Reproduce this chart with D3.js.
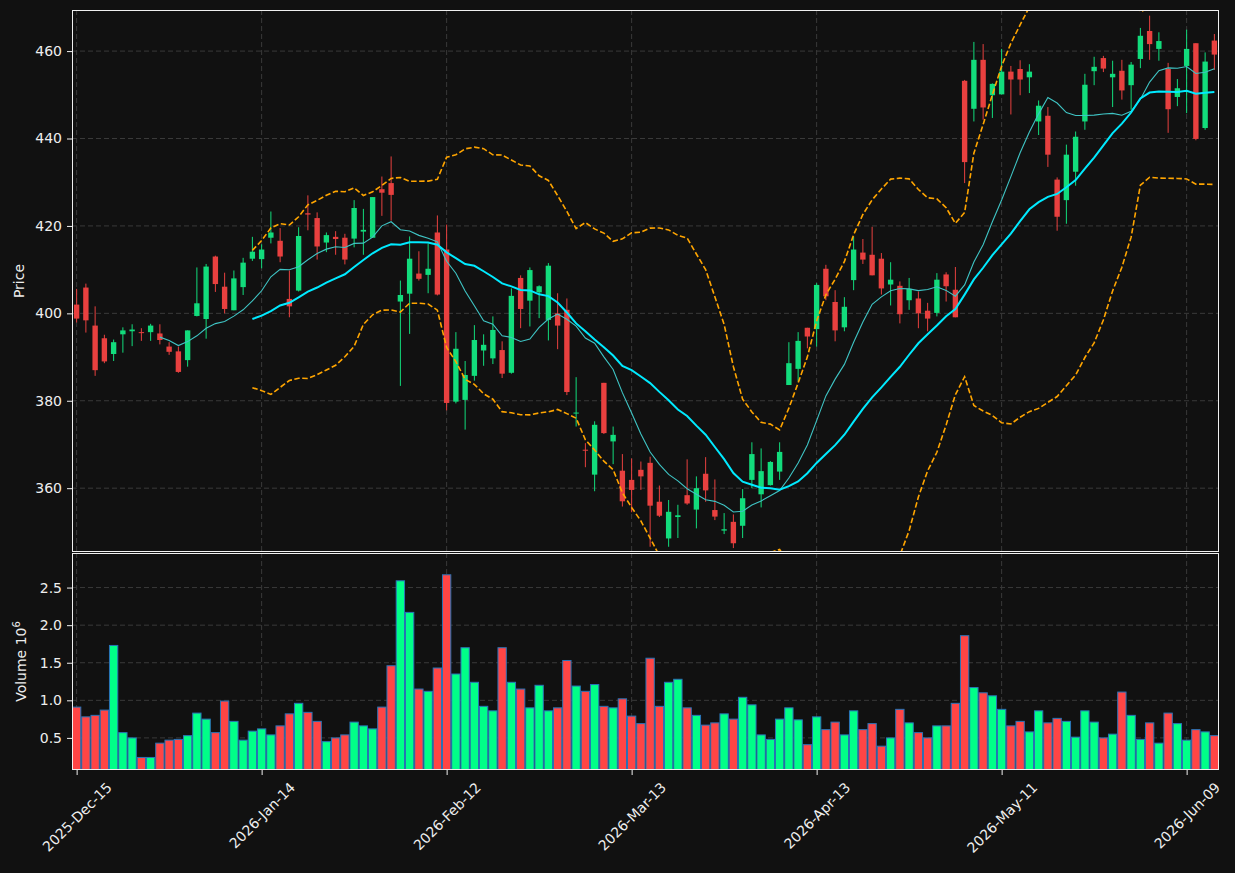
<!DOCTYPE html>
<html>
<head>
<meta charset="utf-8">
<script src="https://cdn.jsdelivr.net/npm/d3@7"></script>
<style>
  html, body { margin: 0; padding: 0; background: #111111; }
  svg { display: block; font-family: "DejaVu Sans", sans-serif; }
</style>
</head>
<body>
<div id="chart"></div>
<script>
// Daily OHLC (trading days, index 0 = 2025-Dec-15), volume in millions.
const opens = [402.0,405.9,397.2,394.3,390.7,395.2,395.9,395.7,395.7,395.4,392.4,391.3,389.3,399.4,398.7,413.0,406.1,400.7,406.0,412.5,
  412.4,417.3,416.6,403.3,405.2,422.9,421.8,416.2,417.5,417.3,417.1,418.7,417.3,428.4,429.8,402.7,404.5,409.1,408.8,418.5,
  414.6,379.8,380.2,385.7,391.5,389.7,391.6,386.4,408.1,402.9,404.8,398.5,400.0,400.8,377.1,368.8,363.1,384.1,370.7,364.0,
  361.9,364.2,365.8,356.9,348.5,353.4,358.4,355.1,363.3,355.0,350.3,352.3,351.4,361.9,358.6,360.7,363.8,383.6,387.3,396.7,
  396.4,410.2,402.6,396.8,407.6,413.9,413.4,412.5,406.6,406.3,403.0,403.4,400.6,400.1,408.9,405.4,453.2,446.8,458.0,449.9,
  450.1,455.3,455.9,454.0,443.9,445.2,430.6,425.9,432.4,443.9,455.4,458.4,454.0,455.5,452.2,458.2,464.6,460.5,455.9,449.5,
  456.6,461.8,442.4,462.4];
const highs = [405.6,406.8,401.6,395.1,394.0,396.8,397.5,396.6,397.6,397.5,393.4,392.4,396.1,410.5,411.3,413.2,409.3,409.8,412.7,417.5,
  415.8,423.3,419.5,409.8,419.7,427.0,423.1,418.5,418.8,418.2,425.9,423.9,426.6,431.3,435.9,407.5,417.6,414.2,416.0,422.4,
  420.3,395.7,389.1,397.3,395.2,399.3,393.6,405.7,408.7,410.5,406.4,411.5,404.6,403.4,385.4,370.3,375.3,384.1,374.1,367.8,
  366.8,366.1,367.2,360.6,357.3,356.2,366.6,362.7,367.1,362.0,354.3,354.0,359.8,370.5,369.1,366.2,370.5,393.4,395.7,396.7,
  406.9,411.1,405.3,403.7,417.6,417.0,419.8,413.8,411.7,407.3,408.1,405.0,402.4,409.2,409.4,410.6,453.4,462.1,461.6,452.6,
  460.5,456.6,457.9,457.0,448.7,447.2,431.1,438.6,441.6,454.8,458.7,458.9,457.8,458.0,457.5,465.3,468.1,464.3,457.3,453.6,
  464.9,461.8,459.7,463.9];
const lows = [397.9,395.6,385.7,388.6,389.1,391.0,392.5,393.7,393.7,392.9,390.5,386.4,387.8,399.3,394.2,404.9,400.0,400.7,404.2,412.0,
  410.3,416.0,411.7,399.1,405.0,419.0,412.3,414.0,413.4,411.2,415.1,413.4,417.3,422.3,421.2,383.4,395.3,407.5,404.6,404.1,
  377.8,379.4,373.4,384.6,388.0,388.4,385.2,386.2,396.6,397.0,398.9,393.8,391.8,381.3,374.1,364.8,359.3,372.4,365.5,355.8,
  354.5,359.6,346.6,353.4,346.6,348.6,356.2,350.8,356.9,352.7,349.5,346.3,348.6,360.0,355.6,360.6,361.9,383.6,384.4,392.0,
  392.4,403.0,393.6,395.9,405.3,411.3,408.7,404.3,401.8,397.7,400.8,396.6,395.9,399.3,402.7,399.1,429.8,443.9,444.3,444.7,
  450.1,445.5,449.9,450.4,440.8,433.5,418.9,420.5,429.2,442.0,452.2,455.2,447.2,448.9,446.6,456.1,458.0,457.8,441.3,447.4,
  445.8,439.6,442.0,455.7];
const closes = [398.8,398.4,387.0,389.0,393.4,396.1,396.3,395.5,397.2,393.9,391.2,386.6,396.1,402.3,410.7,406.7,401.0,408.0,411.6,414.1,
  414.6,418.5,413.0,401.6,417.7,422.6,415.3,417.9,417.0,412.3,424.1,419.1,426.6,427.6,427.1,404.2,412.5,407.9,410.2,404.3,
  379.5,391.9,385.9,393.9,392.8,396.2,386.2,404.0,401.0,409.9,406.2,410.9,397.2,382.0,377.3,368.7,374.5,372.6,372.2,357.0,
  359.6,362.7,356.0,353.7,354.6,353.8,356.5,360.0,359.5,353.5,350.6,347.4,357.7,367.8,363.9,366.0,368.3,388.6,393.7,394.7,
  406.5,403.9,396.1,401.5,414.6,412.3,408.7,405.7,407.7,399.8,405.6,400.0,398.8,407.7,406.2,399.1,434.6,458.0,447.1,452.5,
  455.3,453.5,453.5,455.3,447.5,436.3,422.1,436.3,440.4,452.3,456.4,456.0,454.8,451.0,456.9,463.5,461.6,462.3,446.7,451.5,
  460.5,439.9,457.6,459.2];
const volumes = [0.91,0.78,0.80,0.87,1.73,0.57,0.50,0.24,0.24,0.43,0.47,0.48,0.53,0.83,0.75,0.57,0.99,0.72,0.47,0.59,
  0.62,0.54,0.66,0.82,0.96,0.84,0.72,0.45,0.50,0.54,0.71,0.66,0.62,0.91,1.46,2.59,2.17,1.15,1.12,1.43,
  2.67,1.35,1.70,1.24,0.92,0.86,1.70,1.24,1.15,0.90,1.20,0.86,0.90,1.53,1.19,1.12,1.21,0.92,0.90,1.02,
  0.79,0.69,1.56,0.92,1.24,1.28,0.90,0.80,0.67,0.70,0.82,0.75,1.04,0.94,0.54,0.48,0.75,0.90,0.74,0.41,
  0.78,0.61,0.71,0.54,0.86,0.61,0.69,0.39,0.50,0.88,0.70,0.57,0.50,0.66,0.66,0.96,1.86,1.17,1.10,1.06,
  0.88,0.66,0.72,0.58,0.86,0.70,0.76,0.72,0.51,0.86,0.71,0.50,0.55,1.11,0.80,0.48,0.70,0.43,0.83,0.69,
  0.47,0.61,0.58,0.53];

const tickIdx = [0, 20, 40, 60, 80, 100, 120];
const tickLabels = ["2025-Dec-15", "2026-Jan-14", "2026-Feb-12", "2026-Mar-13", "2026-Apr-13", "2026-May-11", "2026-Jun-09"];
const priceTicks = [360, 380, 400, 420, 440, 460];
const volumeTicks = [0.5, 1.0, 1.5, 2.0, 2.5];

const W = 1235, H = 873;
const L = 72, R = 1219;
const pTop = 10, pBot = 552, vTop = 553, vBot = 770;
const TXT = "#eeeeee", GRID = "#3a3a3a";

const n = closes.length;
const idx = d3.range(n);

// moving averages & bollinger bands from the closes
function rolling(win, f) {
  return idx.map(i => i < win - 1 ? null : f(closes.slice(i - win + 1, i + 1)));
}
const ma10 = rolling(10, d3.mean);
const ma20 = rolling(20, d3.mean);
const sd20 = rolling(20, w => { const m = d3.mean(w); return Math.sqrt(d3.mean(w, v => (v - m) ** 2)); });
const bbUp = idx.map(i => ma20[i] == null ? null : ma20[i] + 2 * sd20[i]);
const bbLo = idx.map(i => ma20[i] == null ? null : ma20[i] - 2 * sd20[i]);

const x = d3.scaleLinear().domain([-0.5, n - 0.5]).range([L, R]);
const yP = d3.scaleLinear().domain([345.4, 469.4]).range([pBot, pTop]);
const yV = d3.scaleLinear().domain([0.073, 2.96]).range([vBot, vTop]);
const step = x(1) - x(0);

const svg = d3.select("#chart").append("svg").attr("width", W).attr("height", H);
svg.append("rect").attr("width", W).attr("height", H).attr("fill", "#111111");

const defs = svg.append("defs");
defs.append("clipPath").attr("id", "clipP").append("rect")
  .attr("x", L).attr("y", pTop).attr("width", R - L).attr("height", pBot - pTop);
defs.append("clipPath").attr("id", "clipV").append("rect")
  .attr("x", L).attr("y", vTop).attr("width", R - L).attr("height", vBot - vTop);

// grids
const grid = svg.append("g").attr("stroke", GRID).attr("stroke-width", 1).attr("stroke-dasharray", "5,3");
priceTicks.forEach(t => grid.append("line").attr("x1", L).attr("x2", R).attr("y1", yP(t)).attr("y2", yP(t)));
volumeTicks.forEach(t => grid.append("line").attr("x1", L).attr("x2", R).attr("y1", yV(t)).attr("y2", yV(t)));
tickIdx.forEach(t => {
  grid.append("line").attr("x1", x(t)).attr("x2", x(t)).attr("y1", pTop).attr("y2", pBot);
  grid.append("line").attr("x1", x(t)).attr("x2", x(t)).attr("y1", vTop).attr("y2", vBot);
});

// candles
const up = i => closes[i] >= opens[i];
const cG = svg.append("g").attr("clip-path", "url(#clipP)");
const bw = step * 0.58;
cG.selectAll("line.wick").data(idx).join("line").attr("class", "wick")
  .attr("x1", i => x(i)).attr("x2", i => x(i))
  .attr("y1", i => yP(highs[i])).attr("y2", i => yP(lows[i]))
  .attr("stroke", i => up(i) ? "#12dc7c" : "#e8403f").attr("stroke-width", 1);
cG.selectAll("rect.body").data(idx).join("rect").attr("class", "body")
  .attr("x", i => x(i) - bw / 2).attr("width", bw)
  .attr("y", i => yP(Math.max(opens[i], closes[i])))
  .attr("height", i => Math.max(1, Math.abs(yP(opens[i]) - yP(closes[i]))))
  .attr("fill", i => up(i) ? "#12dc7c" : "#e8403f");

// lines
const lineGen = arr => d3.line().defined(i => arr[i] != null).x(i => x(i)).y(i => yP(arr[i]))(idx);
const lG = svg.append("g").attr("clip-path", "url(#clipP)").attr("fill", "none");
lG.append("path").attr("d", lineGen(ma10)).attr("stroke", "#3fc4c4").attr("stroke-width", 1.1);
lG.append("path").attr("d", lineGen(ma20)).attr("stroke", "#00eaff").attr("stroke-width", 2);
[bbUp, bbLo].forEach(b => lG.append("path").attr("d", lineGen(b))
  .attr("stroke", "#ffa500").attr("stroke-width", 1.6).attr("stroke-dasharray", "5.5,2.5"));

// volume bars
const vG = svg.append("g").attr("clip-path", "url(#clipV)");
const vw = step * 0.9;
vG.selectAll("rect").data(idx).join("rect")
  .attr("x", i => x(i) - vw / 2).attr("width", vw)
  .attr("y", i => yV(volumes[i])).attr("height", i => vBot - yV(volumes[i]))
  .attr("fill", i => up(i) ? "#00ff88" : "#ff4545")
  .attr("stroke", "#2a74b8").attr("stroke-width", 1);

// frames
svg.append("rect").attr("x", L + 0.5).attr("y", pTop + 0.5).attr("width", R - L - 1).attr("height", pBot - pTop - 1)
  .attr("fill", "none").attr("stroke", "#f0f0f0").attr("stroke-width", 1);
svg.append("rect").attr("x", L + 0.5).attr("y", vTop + 0.5).attr("width", R - L - 1).attr("height", vBot - vTop - 1)
  .attr("fill", "none").attr("stroke", "#f0f0f0").attr("stroke-width", 1);

// axes
function styleAxis(g) {
  g.select(".domain").remove();
  g.selectAll(".tick line").attr("stroke", "#f0f0f0");
  g.selectAll(".tick text").attr("fill", TXT).attr("font-size", 14).attr("font-family", "DejaVu Sans, sans-serif");
}
svg.append("g").attr("transform", `translate(${L},0)`)
  .call(d3.axisLeft(yP).tickValues(priceTicks).tickSize(5).tickPadding(5).tickFormat(d3.format("d")))
  .call(styleAxis);
svg.append("g").attr("transform", `translate(${L},0)`)
  .call(d3.axisLeft(yV).tickValues(volumeTicks).tickSize(5).tickPadding(5).tickFormat(d3.format(".1f")))
  .call(styleAxis);
const xa = svg.append("g").attr("transform", `translate(0,${vBot})`)
  .call(d3.axisBottom(x).tickValues(tickIdx).tickSize(5).tickFormat((d, k) => tickLabels[k]))
  .call(styleAxis);
xa.selectAll(".tick text").each(function () {
  const t = d3.select(this);
  const len = this.getComputedTextLength();
  const half = (len + 14) * Math.SQRT1_2 / 2;
  t.attr("y", null).attr("dy", null).attr("text-anchor", "middle").attr("dominant-baseline", "central")
    .attr("transform", `translate(0,${10 + half}) rotate(-45)`);
});

// axis titles
svg.append("text").attr("transform", `translate(24,${(pTop + pBot) / 2}) rotate(-90)`)
  .attr("text-anchor", "middle").attr("fill", TXT).attr("font-size", 14).text("Price");
const vt = svg.append("text").attr("transform", `translate(26,${(vTop + vBot) / 2}) rotate(-90)`)
  .attr("text-anchor", "middle").attr("fill", TXT).attr("font-size", 14);
vt.append("tspan").text("Volume  10");
vt.append("tspan").attr("dy", -6).attr("font-size", 10).text("6");
</script>
</body>
</html>
